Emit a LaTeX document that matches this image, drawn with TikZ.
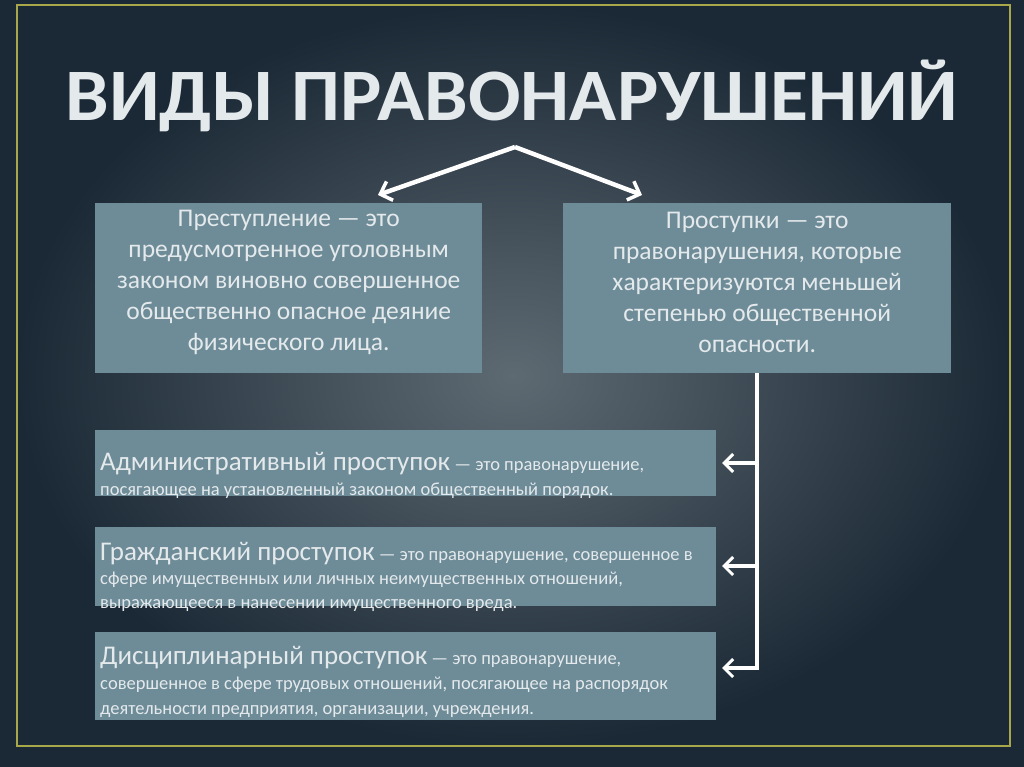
\documentclass[tikz,border=0pt]{standalone}
\usepackage{fontspec}
\setmainfont{Carlito}
\begin{document}
\begin{tikzpicture}[x=1pt,y=-1pt,
  box/.style={fill=boxc,inner sep=0pt,anchor=north west},
  txt/.style={text=txtc,align=center,font=\fontsize{25.5}{31}\selectfont},
  arr/.style={draw=white,line width=4.5pt,-{Straight Barb[length=10pt,width=20pt,line width=3.5pt]}}]
\usetikzlibrary{arrows.meta}
\definecolor{boxc}{HTML}{6E8C98}
\definecolor{txtc}{HTML}{E4E9EC}
\definecolor{bgin}{HTML}{5E6A72}
\definecolor{bgout}{HTML}{1B2936}
\definecolor{olive}{HTML}{A8A84A}
\useasboundingbox (0,0) rectangle (1024,767);
\fill[bgout] (0,0) rectangle (1024,767);
\shade[inner color=bgin,outer color=bgout] (17,5) rectangle (1010,746);
\draw[olive,line width=2pt] (17,5) rectangle (1010,746);
\node[text=txtc,font=\bfseries\fontsize{74}{74}\selectfont,xscale=1.05] (title) at (512,96) {ВИДЫ ПРАВОНАРУШЕНИЙ};
\coordinate (top) at (515,147);
\node[box,minimum width=387pt,minimum height=170pt] (b1) at (95,203) {};
\node[box,minimum width=388pt,minimum height=170pt] (b2) at (563,203) {};
\node[txt] at ([yshift=6pt]b1.center) {Преступление — это\\предусмотренное уголовным\\законом виновно совершенное\\общественно опасное деяние\\физического лица.};
\node[txt] at ([yshift=6pt]b2.center) {Проступки — это\\правонарушения, которые\\характеризуются меньшей\\степенью общественной\\опасности.};
\coordinate (a1) at (378,195);
\coordinate (a2) at (642,195);
\draw[arr] (top) -- (a1);
\draw[arr] (top) -- (a2);
\node[box,minimum width=621pt,minimum height=66pt] (s1) at (95,430) {};
\node[box,minimum width=621pt,minimum height=79pt] (s2) at (95,527) {};
\node[box,minimum width=621pt,minimum height=88pt] (s3) at (95,632) {};
\node[text=txtc,anchor=west,align=left,font=\fontsize{18.5}{25}\selectfont,inner sep=0pt] at (100,475)
 {{\fontsize{27}{25}\selectfont Административный проступок} — это правонарушение,\\посягающее на установленный законом общественный порядок.};
\node[text=txtc,anchor=west,align=left,font=\fontsize{18.5}{24}\selectfont,inner sep=0pt] at (100,577)
 {{\fontsize{27}{24}\selectfont Гражданский проступок} — это правонарушение, совершенное в\\сфере имущественных или личных неимущественных отношений,\\выражающееся в нанесении имущественного вреда.};
\node[text=txtc,anchor=west,align=left,font=\fontsize{18.5}{25}\selectfont,inner sep=0pt] at (100,682)
 {{\fontsize{27}{25}\selectfont Дисциплинарный проступок} — это правонарушение,\\совершенное в сфере трудовых отношений, посягающее на распорядок\\деятельности предприятия, организации, учреждения.};
\coordinate (v0) at (757,373);
\coordinate (v3) at (757,668);
\draw[white,line width=3.5pt] (v0) -- (v3);
\foreach \y/\n in {463/s1,566/s2,668/s3}{
  \draw[white,line width=3.5pt,-{Straight Barb[length=9pt,width=18pt,line width=3pt]}] (759,\y) -- (722,\y);
}
\end{tikzpicture}
\end{document}
